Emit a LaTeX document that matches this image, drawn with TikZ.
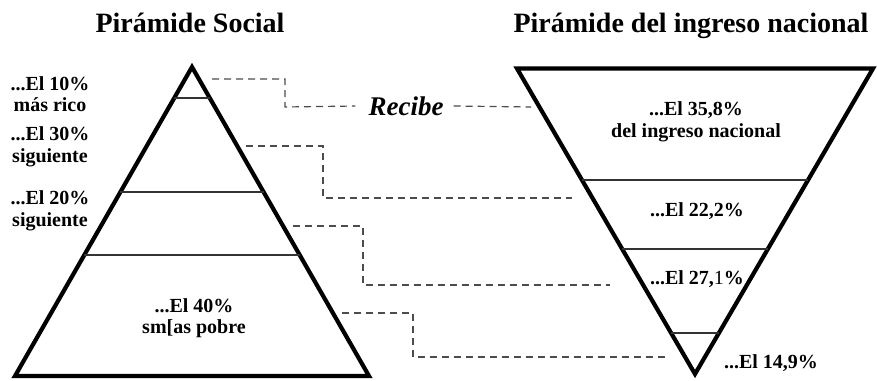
\documentclass[tikz,border=0pt]{standalone}
\usepackage{fontspec}
\setmainfont{Liberation Serif}
\usetikzlibrary{calc}
\begin{document}
\begin{tikzpicture}[x=1pt,y=-1pt,
  tri/.style={line width=4.2pt,line join=miter,black},
  band/.style={line width=1.8pt,black!80},
  conn/.style={line width=1.2pt,black!70,dash pattern=on 7pt off 5pt},
  ttl/.style={font=\fontsize{28}{31}\selectfont\bfseries,anchor=base},
  lbl/.style={font=\fontsize{20}{21.5}\selectfont\bfseries,align=center,inner sep=0pt},
  rec/.style={font=\fontsize{27}{28}\selectfont\bfseries\itshape,inner sep=0pt}]
\useasboundingbox (0,0) rectangle (877,380);
% titles
\node[ttl] (t1) at (190,32) {Pirámide Social};
\node[ttl] (t2) at (691,32) {Pirámide del ingreso nacional};
% left pyramid
\coordinate (A) at (192,67);
\coordinate (BL) at (15,376);
\coordinate (BR) at (369,376);
\draw[tri] (A) -- (BL) -- (BR) -- cycle;
\draw[band] ($(A)!0.10!(BL)$) -- ($(A)!0.10!(BR)$);
\draw[band] ($(A)!0.405!(BL)$) -- ($(A)!0.405!(BR)$);
\draw[band] ($(A)!0.608!(BL)$) -- ($(A)!0.608!(BR)$);
% right pyramid
\coordinate (TL) at (517,68.5);
\coordinate (TR) at (873,68.5);
\coordinate (V) at (695,374);
\draw[tri] (TL) -- (TR) -- (V) -- cycle;
\draw[band] ($(TL)!0.365!(V)$) -- ($(TR)!0.365!(V)$);
\draw[band] ($(TL)!0.591!(V)$) -- ($(TR)!0.591!(V)$);
\draw[band] ($(TL)!0.866!(V)$) -- ($(TR)!0.866!(V)$);
% labels
\node[lbl] (l1) at (50,94) {...El 10\%\\más rico};
\node[lbl] (l2) at (50,147) {...El 30\%\\siguiente};
\node[lbl] (l3) at (50,211) {...El 20\%\\siguiente};
\node[lbl] (l4) at (194,318) {...El 40\%\\sm[as pobre};
\node[lbl] (r1) at (696,122) {...El 35,8\%\\del ingreso nacional};
\node[lbl] (r2) at (697,211) {...El 22,2\%};
\node[lbl] (r3) at (697,279) {...El 27,{\mdseries 1}\%};
\node[lbl] (r4) at (771,363) {...El 14,9\%};
\node[rec] (rc) at (406,106) {Recibe};
% connectors
\coordinate (c1s) at (212,79);
\coordinate (c1m) at (285,107);
\coordinate (c1e) at (531,107);
\coordinate (c2s) at (246,146);
\coordinate (c2m) at (323,198);
\coordinate (c2e) at (572,198);
\coordinate (c3s) at (293,226);
\coordinate (c3m) at (363,285);
\coordinate (c3e) at (610,285);
\coordinate (c4s) at (342,313);
\coordinate (c4m) at (413,357);
\coordinate (c4e) at (668,357);
\draw[conn] (c1s) -| (c1m) -- ([xshift=-13pt]rc.west);
\draw[conn] ([xshift=10pt]rc.east) -- (c1e);
\draw[conn] (c2s) -| (c2m) -- (c2e);
\draw[conn] (c3s) -| (c3m) -- (c3e);
\draw[conn] (c4s) -| (c4m) -- (c4e);
\end{tikzpicture}
\end{document}
